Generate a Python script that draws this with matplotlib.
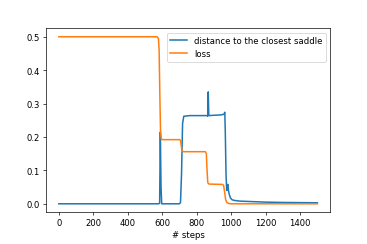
import matplotlib
matplotlib.use("Agg")
import matplotlib.pyplot as plt

# distance to the closest saddle (blue)
dist_steps = [0, 580, 585, 589, 593, 597, 700, 706, 712, 718, 725, 760, 860, 864, 867, 870, 873, 900, 940, 958, 963, 966, 970, 974, 978, 981, 984, 988, 995, 1005, 1020, 1050, 1100, 1200, 1300, 1400, 1500]
dist_vals  = [0.0, 0.0, 0.002, 0.215, 0.05, 0.0, 0.0, 0.004, 0.09, 0.24, 0.262, 0.264, 0.264, 0.262, 0.335, 0.266, 0.264, 0.265, 0.266, 0.268, 0.274, 0.21, 0.09, 0.04, 0.055, 0.058, 0.04, 0.03, 0.018, 0.012, 0.01, 0.008, 0.007, 0.005, 0.004, 0.0035, 0.003]

# loss (orange)
loss_steps = [0, 570, 578, 582, 586, 590, 594, 600, 700, 706, 710, 714, 718, 724, 850, 856, 860, 864, 868, 874, 950, 956, 962, 968, 975, 985, 1000, 1500]
loss_vals  = [0.5, 0.5, 0.495, 0.46, 0.33, 0.22, 0.195, 0.192, 0.192, 0.19, 0.175, 0.16, 0.157, 0.156, 0.156, 0.15, 0.1, 0.065, 0.06, 0.059, 0.058, 0.055, 0.035, 0.012, 0.004, 0.001, 0.0, 0.0]

fig, ax = plt.subplots(figsize=(6, 245/61.1667), dpi=61.1667)
ax.plot(dist_steps, dist_vals, color="#1f77b4", lw=1.8, label="distance to the closest saddle")
ax.plot(loss_steps, loss_vals, color="#ff7f0e", lw=1.8, label="loss")
ax.set_xlabel("# steps")
ax.legend(loc="upper right")
fig.subplots_adjust(left=0.125, right=0.9, top=0.88, bottom=0.13)
fig.savefig("out.png")
